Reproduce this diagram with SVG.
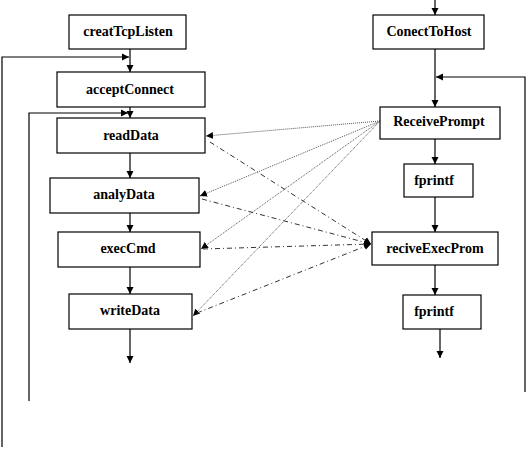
<svg xmlns="http://www.w3.org/2000/svg" width="529" height="450" viewBox="0 0 529 450">
<style>
.box{fill:#fff;stroke:#000;stroke-width:1.2}
.lbl{font-family:"Liberation Serif",serif;font-weight:bold;font-size:14px;text-anchor:middle;fill:#000}
.ln{fill:none;stroke:#000;stroke-width:1.2}
.dot{fill:none;stroke:#555;stroke-width:1;stroke-dasharray:1 1}
.dd{fill:none;stroke:#333;stroke-width:1;stroke-dasharray:5 3 1 3}
</style>
<defs>
<marker id="ah" markerWidth="8" markerHeight="8" refX="7" refY="4" orient="auto" markerUnits="userSpaceOnUse">
<path d="M0,0.5 L7,4 L0,7.5 Z" fill="#000"/>
</marker>
</defs>
<rect width="529" height="450" fill="#fff"/>
<g id="connectors">
<line class="ln" x1="130" y1="49" x2="130" y2="72" marker-end="url(#ah)"/>
<polyline class="ln" points="2,447 2,57 129,57" marker-end="url(#ah)"/>
<line class="ln" x1="130" y1="107" x2="130" y2="118" marker-end="url(#ah)"/>
<polyline class="ln" points="29,401 29,113 128,113" marker-end="url(#ah)"/>
<line class="ln" x1="130" y1="153" x2="130" y2="178" marker-end="url(#ah)"/>
<line class="ln" x1="130" y1="213" x2="130" y2="232" marker-end="url(#ah)"/>
<line class="ln" x1="130" y1="267" x2="130" y2="294" marker-end="url(#ah)"/>
<line class="ln" x1="130" y1="329" x2="130" y2="363" marker-end="url(#ah)"/>
<line class="ln" x1="435" y1="0" x2="435" y2="15" marker-end="url(#ah)"/>
<line class="ln" x1="435" y1="49" x2="435" y2="107" marker-end="url(#ah)"/>
<polyline class="ln" points="525,392 525,77 436,77" marker-end="url(#ah)"/>
<line class="ln" x1="435" y1="139" x2="435" y2="164" marker-end="url(#ah)"/>
<line class="ln" x1="435" y1="197" x2="435" y2="232" marker-end="url(#ah)"/>
<line class="ln" x1="435" y1="265" x2="435" y2="295" marker-end="url(#ah)"/>
<line class="ln" x1="440" y1="329" x2="440" y2="358" marker-end="url(#ah)"/>
<line class="dot" x1="380" y1="121" x2="206" y2="136" marker-end="url(#ah)"/>
<line class="dot" x1="380" y1="121" x2="200" y2="196" marker-end="url(#ah)"/>
<line class="dot" x1="380" y1="121" x2="201" y2="249" marker-end="url(#ah)"/>
<line class="dot" x1="380" y1="121" x2="193" y2="316" marker-end="url(#ah)"/>
<line class="dd" x1="210" y1="142" x2="371" y2="244" marker-end="url(#ah)"/>
<line class="dd" x1="202" y1="199" x2="371" y2="244" marker-end="url(#ah)"/>
<line class="dd" x1="203" y1="249" x2="371" y2="244" marker-end="url(#ah)"/>
<line class="dd" x1="197" y1="313" x2="371" y2="244" marker-end="url(#ah)"/>
</g>
<g id="creatTcpListen"><rect class="box" x="69" y="15" width="117" height="34"/><text class="lbl" x="128" y="36">creatTcpListen</text></g>
<g id="acceptConnect"><rect class="box" x="57" y="72" width="148" height="35"/><text class="lbl" x="130" y="94">acceptConnect</text></g>
<g id="readData"><rect class="box" x="57" y="118" width="148" height="35"/><text class="lbl" x="131" y="140">readData</text></g>
<g id="analyData"><rect class="box" x="50" y="178" width="149" height="35"/><text class="lbl" x="124" y="199">analyData</text></g>
<g id="execCmd"><rect class="box" x="58" y="232" width="142" height="35"/><text class="lbl" x="128" y="253">execCmd</text></g>
<g id="writeData"><rect class="box" x="69" y="294" width="123" height="35"/><text class="lbl" x="130" y="315">writeData</text></g>
<g id="ConectToHost"><rect class="box" x="373" y="15" width="111" height="34"/><text class="lbl" x="429" y="36">ConectToHost</text></g>
<g id="ReceivePrompt"><rect class="box" x="380" y="107" width="120" height="32"/><text class="lbl" x="439" y="126">ReceivePrompt</text></g>
<g id="fprintf1"><rect class="box" x="404" y="164" width="69" height="33"/><text class="lbl" x="434" y="185">fprintf</text></g>
<g id="reciveExecProm"><rect class="box" x="372" y="232" width="126" height="33"/><text class="lbl" x="435" y="253">reciveExecProm</text></g>
<g id="fprintf2"><rect class="box" x="403" y="295" width="78" height="34"/><text class="lbl" x="434" y="316">fprintf</text></g>
</svg>
